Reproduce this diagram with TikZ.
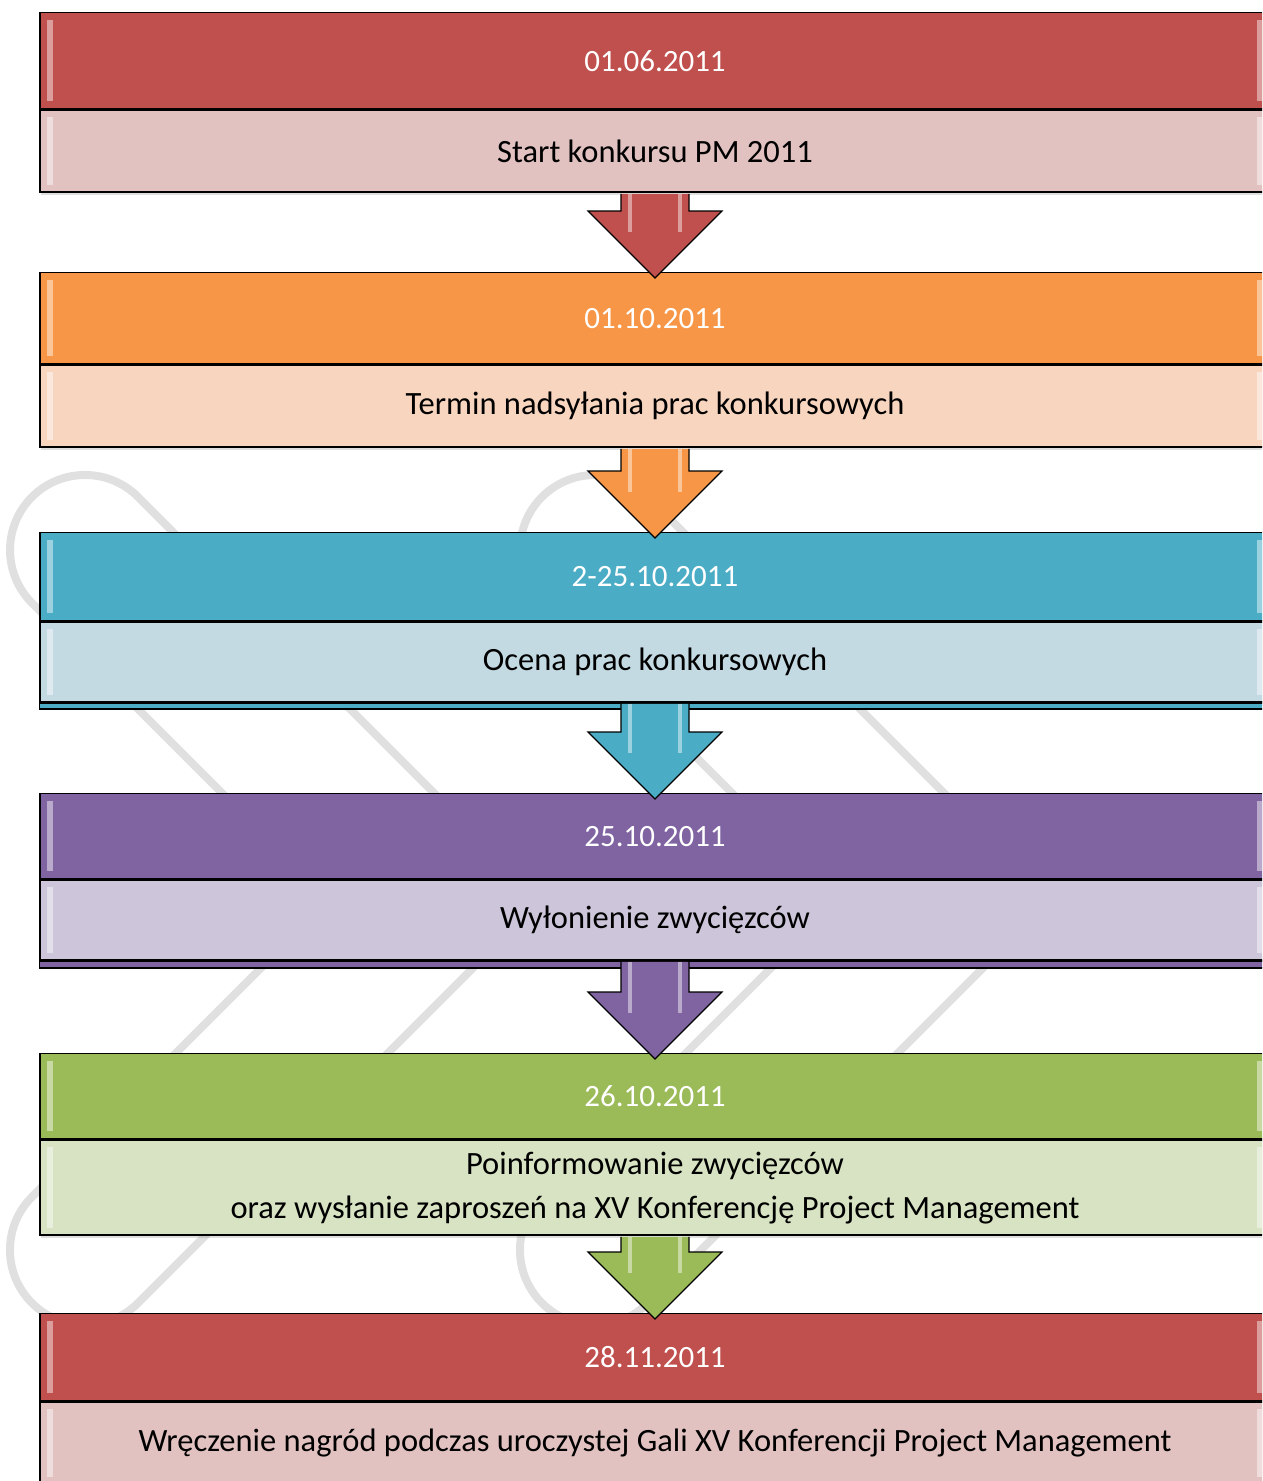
\documentclass[tikz,border=0pt]{standalone}
\usepackage{fontspec}
\setmainfont{Carlito}
\usetikzlibrary{positioning,shadows}
\definecolor{red1}{RGB}{192,80,77}
\definecolor{red2}{RGB}{225,194,193}
\definecolor{orng1}{RGB}{247,150,70}
\definecolor{orng2}{RGB}{248,213,191}
\definecolor{blue1}{RGB}{75,172,198}
\definecolor{blue2}{RGB}{195,218,226}
\definecolor{purp1}{RGB}{128,100,162}
\definecolor{purp2}{RGB}{205,197,218}
\definecolor{grn1}{RGB}{155,187,89}
\definecolor{grn2}{RGB}{215,227,194}
\definecolor{wmgray}{RGB}{224,224,224}

\begin{document}
\begin{tikzpicture}[x=1pt,y=-1pt,semithick]
  \tikzstyle{band}=[rectangle,draw=black,line width=1.4pt,minimum width=1230pt,
                    inner sep=0pt,
                    drop shadow={shadow xshift=1pt,shadow yshift=-3pt,opacity=0.25}]
  \tikzstyle{dateband}=[band,text=white,font=\fontsize{31}{44}\selectfont]
  \tikzstyle{taskband}=[band,text=black,align=center,font=\fontsize{32.5}{44}\selectfont]
  \tikzstyle{flow}=[line width=1.2pt,draw=black,line join=miter]
  \tikzstyle{wm}=[line width=8pt,draw=wmgray,line join=round]
  \tikzstyle{gloss}=[fill=white,opacity=0.45]

  \useasboundingbox (0,0) rectangle (1262,1481);
  \clip (0,0) rectangle (1262,1481);

  % paper clips behind
  \foreach \dx in {0,510} {
    \draw[wm] (138+\dx,497) -- (541+\dx,900) -- (138+\dx,1303)
      arc[start angle=45,end angle=225,radius=75] -- (329+\dx,900) -- (32+\dx,603)
      arc[start angle=135,end angle=315,radius=75] -- cycle;
  }

  \node[dateband,fill=red1,minimum height=96pt,anchor=north] (d1) at (655,12) {01.06.2011};
  \node[taskband,fill=red2,minimum height=82pt,below=0pt of d1] (t1) {Start konkursu PM 2011};

  \node[dateband,fill=orng1,minimum height=91pt,anchor=north] (d2) at (655,272) {01.10.2011};
  \node[taskband,fill=orng2,minimum height=82pt,below=0pt of d2] (t2) {Termin nadsyłania prac konkursowych};

  \node[dateband,fill=blue1,minimum height=88pt,anchor=north] (d3) at (655,532) {2-25.10.2011};
  \node[taskband,fill=blue2,minimum height=80pt,below=0pt of d3] (t3) {Ocena prac konkursowych};
  \draw[fill=blue1,line width=1.4pt] (t3.south west) rectangle ([yshift=-6pt]t3.south east);

  \node[dateband,fill=purp1,minimum height=85pt,anchor=north] (d4) at (655,793) {25.10.2011};
  \node[taskband,fill=purp2,minimum height=80pt,below=0pt of d4] (t4) {Wyłonienie zwycięzców};
  \draw[fill=purp1,line width=1.4pt] (t4.south west) rectangle ([yshift=-7pt]t4.south east);

  \node[dateband,fill=grn1,minimum height=85pt,anchor=north] (d5) at (655,1053) {26.10.2011};
  \node[taskband,fill=grn2,minimum height=95pt,below=0pt of d5] (t5)
    {Poinformowanie zwycięzców\\oraz wysłanie zaproszeń na XV Konferencję Project Management};

  \node[dateband,fill=red1,minimum height=87pt,anchor=north] (d6) at (655,1313) {28.11.2011};
  \node[taskband,fill=red2,minimum height=82pt,below=0pt of d6] (t6)
    {Wręczenie nagród podczas uroczystej Gali XV Konferencji Project Management};

  % bevel highlights
  \foreach \n in {d1,t1,d2,t2,d3,t3,d4,t4,d5,t5,d6,t6} {
    \fill[gloss] ([xshift=8pt,yshift=-8pt]\n.north west) rectangle ([xshift=14pt,yshift=8pt]\n.south west);
    \fill[gloss] ([xshift=-14pt,yshift=-8pt]\n.north east) rectangle ([xshift=-8pt,yshift=8pt]\n.south east);
  }

  % arrows between steps
  \foreach \a/\b/\c in {t1/d2/red1,t2/d3/orng1,t3/d4/blue1,t4/d5/purp1,t5/d6/grn1} {
    \filldraw[flow,fill=\c] ([xshift=-34pt,yshift=-1pt]\a.south)
      -- ([xshift=-34pt,yshift=61pt]\b.north) -- ([xshift=-67pt,yshift=61pt]\b.north)
      -- ([yshift=-6pt]\b.north) -- ([xshift=67pt,yshift=61pt]\b.north)
      -- ([xshift=34pt,yshift=61pt]\b.north) -- ([xshift=34pt,yshift=-1pt]\a.south);
    \fill[gloss] ([xshift=-27pt,yshift=-1pt]\a.south) rectangle ([xshift=-23pt,yshift=40pt]\b.north);
    \fill[gloss] ([xshift=23pt,yshift=-1pt]\a.south) rectangle ([xshift=27pt,yshift=40pt]\b.north);
  }
\end{tikzpicture}
\end{document}
